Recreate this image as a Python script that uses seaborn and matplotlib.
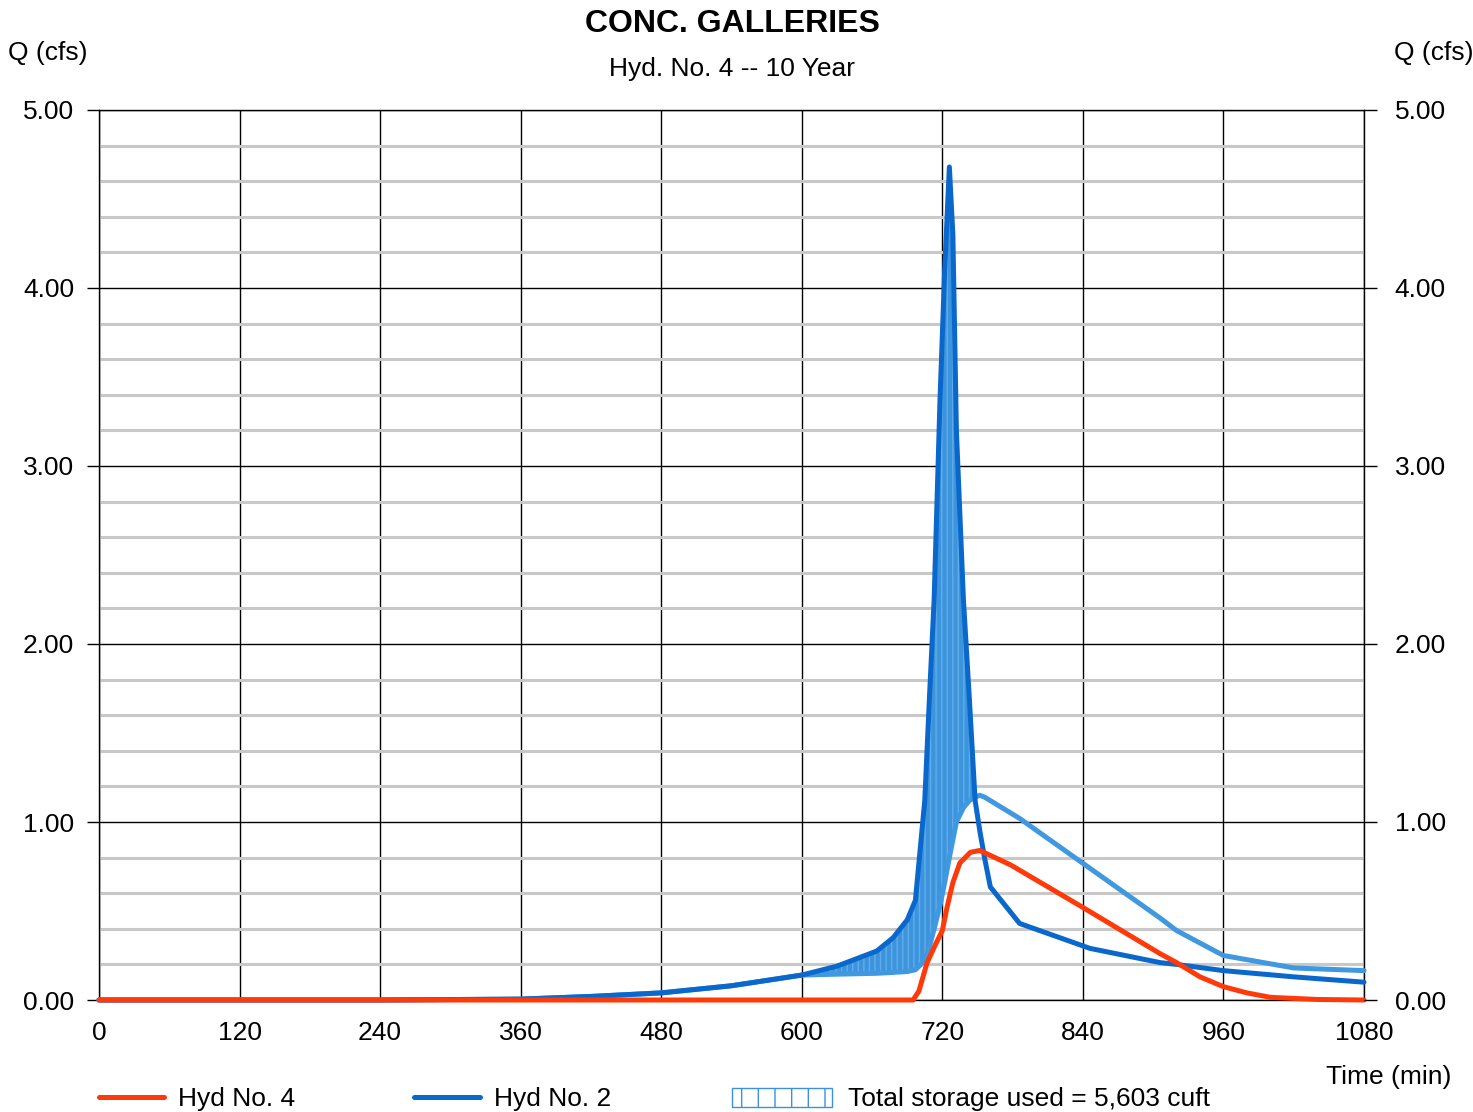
import numpy as np
import pandas as pd
import matplotlib
matplotlib.use("Agg")
import matplotlib.pyplot as plt
from matplotlib.lines import Line2D
from matplotlib.patches import Rectangle
import seaborn as sns

# Time base shared by the inflow hydrograph and the storage envelope (min)
t_in = [0, 120, 240, 360, 420, 480, 540, 600, 630, 664, 678, 690, 697, 705, 709,
        713, 718, 722, 726, 729, 732, 738, 743, 748, 752, 756, 761, 786, 846,
        906, 920, 960, 1020, 1080]
# Hyd No. 2 (inflow), cfs
q_hyd2 = [0.0, 0.0, 0.0, 0.005, 0.02, 0.04, 0.08, 0.14, 0.19, 0.275, 0.35, 0.45,
          0.56, 1.12, 1.7, 2.25, 3.37, 4.1, 4.68, 4.3, 3.2, 2.25, 1.7, 1.12, 0.95,
          0.8, 0.635, 0.43, 0.29, 0.21, 0.2, 0.165, 0.13, 0.10]
# Lower envelope of the storage region, cfs
q_env = [0.0, 0.0, 0.0, 0.005, 0.02, 0.04, 0.08, 0.14, 0.145, 0.15, 0.155, 0.16,
         0.17, 0.22, 0.30, 0.40, 0.53, 0.66, 0.80, 0.90, 1.0, 1.08, 1.12, 1.14,
         1.15, 1.14, 1.12, 1.02, 0.74, 0.46, 0.39, 0.25, 0.18, 0.165]

# Hyd No. 4 (outflow)
t_out = [0, 695, 700, 707, 714, 720, 724, 729, 735, 744, 752, 778, 840, 906, 920,
         940, 960, 980, 1000, 1040, 1080]
q_hyd4 = [0.0, 0.0, 0.05, 0.21, 0.31, 0.39, 0.52, 0.66, 0.77, 0.83, 0.84, 0.76,
          0.52, 0.26, 0.21, 0.13, 0.075, 0.04, 0.015, 0.003, 0.0]

x_ticks = [0, 120, 240, 360, 480, 600, 720, 840, 960, 1080]
y_ticks = [0, 1, 2, 3, 4, 5]

title = "CONC. GALLERIES"
subtitle = "Hyd. No. 4 -- 10 Year"
storage_label = "Total storage used = 5,603 cuft"

RED = "#ff3a0a"
DARK = "#0a68cc"
LIGHT = "#4099e0"
FS = 19

sns.set_style("white")
plt.rcParams["font.family"] = ["Liberation Sans", "DejaVu Sans"]
plt.rcParams["hatch.linewidth"] = 1.0
plt.rcParams["text.color"] = "black"
plt.rcParams["xtick.color"] = "black"
plt.rcParams["ytick.color"] = "black"
plt.rcParams["axes.labelcolor"] = "black"

W, H = 1473, 1112
fig = plt.figure(figsize=(W / 100, H / 100), dpi=100)
L, R, T, B = 99, 1364, 110, 1000
ax = fig.add_axes([L / W, 1 - B / H, (R - L) / W, (B - T) / H])

inflow = pd.DataFrame({"t": t_in, "hyd2": q_hyd2, "env": q_env})
outflow = pd.DataFrame({"t": t_out, "hyd4": q_hyd4})

# storage region between inflow and its envelope
ax.fill_between(inflow["t"], inflow["env"], inflow["hyd2"],
                where=inflow["hyd2"] >= inflow["env"], interpolate=True,
                facecolor="#3b94dc", edgecolor="#62ade8", hatch="|||",
                linewidth=0, zorder=2)

line_kw = dict(lw=3.6, estimator=None, sort=False, clip_on=False,
               solid_joinstyle="round", solid_capstyle="round")
sns.lineplot(data=inflow, x="t", y="env", ax=ax, color=LIGHT, zorder=3, **line_kw)
sns.lineplot(data=inflow, x="t", y="hyd2", ax=ax, color=DARK, zorder=4, **line_kw)
sns.lineplot(data=outflow, x="t", y="hyd4", ax=ax, color=RED, zorder=5, **line_kw)

ax.set_xlim(0, 1080)
ax.set_ylim(0, 5)
ax.set_xticks(x_ticks)
ax.set_xticklabels([str(v) for v in x_ticks])
ax.set_yticks(y_ticks)
ax.set_yticklabels([f"{v:.2f}" for v in y_ticks])
ax.set_yticks(np.arange(0, 5.01, 0.2), minor=True)
ax.set_axisbelow(True)
ax.grid(which="major", color="black", lw=1.0)
ax.grid(which="minor", axis="y", color="#c8c8c8", lw=2.2)
ax.grid(which="minor", axis="x", visible=False)
ax.set_xlabel("")
ax.set_ylabel("")
for s in ax.spines.values():
    s.set_color("black")
    s.set_linewidth(1.0)

ax.tick_params(axis="x", which="major", length=0, pad=15, labelsize=FS)
ax.tick_params(axis="y", which="major", direction="out", length=9, width=1,
               color="black", pad=9, labelsize=FS, left=True)
ax.tick_params(axis="y", which="minor", length=0)

# right-hand axis mirrors the flow scale
ax2 = ax.twinx()
ax2.set_ylim(0, 5)
ax2.set_yticks(y_ticks)
ax2.set_yticklabels([f"{v:.2f}" for v in y_ticks])
ax2.tick_params(axis="y", direction="out", length=9, width=1, color="black",
                pad=13, labelsize=FS)
ax2.grid(False)
for s in ax2.spines.values():
    s.set_visible(False)

def px(x, y):
    return x / W, 1 - y / H

fig.text(*px(732, 24), title, ha="center", va="center", fontsize=23,
         fontweight="bold")
fig.text(*px(732, 69), subtitle, ha="center", va="center", fontsize=19)
fig.text(*px(8, 53), "Q (cfs)", ha="left", va="center", fontsize=FS)
fig.text(*px(1473, 53), "Q (cfs)", ha="right", va="center", fontsize=FS)
fig.text(*px(1389, 1077), "Time (min)", ha="center", va="center", fontsize=FS)

# legend row
ly = 1097
for x0, x1, col, lab, tx in [(99, 164, RED, "Hyd No. 4", 178),
                             (414, 480, DARK, "Hyd No. 2", 494)]:
    fig.add_artist(Line2D([x0 / W, x1 / W], [1 - ly / H, 1 - ly / H],
                          color=col, lw=3.6, solid_capstyle="round"))
    fig.text(*px(tx, ly + 2), lab, ha="left", va="center", fontsize=FS)
fig.add_artist(Rectangle(px(732, 1107), 100 / W, 19 / H, facecolor="white",
                         edgecolor="#3d8fe0", hatch="|", lw=1.0))
fig.text(*px(848, ly + 2), storage_label, ha="left", va="center", fontsize=FS)

fig.savefig("out.png", dpi=100)
